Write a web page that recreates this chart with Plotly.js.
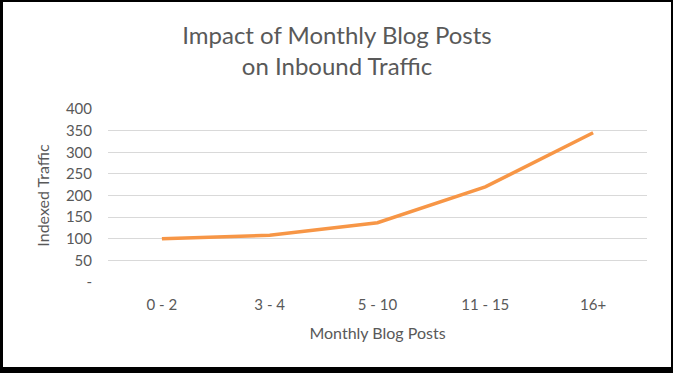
<!DOCTYPE html>
<html>
<head>
<meta charset="utf-8">
<script src="https://cdn.plot.ly/plotly-3.0.1.min.js"></script>
<style>
html, body { margin: 0; padding: 0; background: #000; width: 673px; height: 373px; overflow: hidden; }
#chart { position: absolute; left: 3px; top: 2px; width: 668px; height: 365px; background: #fff; }
</style>
</head>
<body>
<div id="chart"></div>
<script>
const categories = ['0 - 2', '3 - 4', '5 - 10', '11 - 15', '16+'];
const trafficValues = [100, 108, 137, 220, 345];
const yTickVals = [0, 50, 100, 150, 200, 250, 300, 350, 400];
const yTickText = ['-', '50', '100', '150', '200', '250', '300', '350', '400'];

const FONT = 'Lato, "Open Sans", sans-serif';
const GREY = '#595959';

Plotly.newPlot('chart', [{
  type: 'scatter',
  mode: 'lines',
  x: categories,
  y: trafficValues,
  line: { color: '#F79646', width: 3.5 },
  hoverinfo: 'x+y'
}], {
  width: 668,
  height: 365,
  margin: { l: 105, r: 24, t: 107, b: 85 },
  paper_bgcolor: '#ffffff',
  plot_bgcolor: '#ffffff',
  showlegend: false,
  font: { family: FONT, color: GREY },
  title: {
    text: 'Impact of Monthly Blog Posts<br>on Inbound Traffic',
    font: { family: FONT, size: 24, color: GREY },
    x: 0.5, xanchor: 'center',
    y: 0.885, yanchor: 'top'
  },
  xaxis: {
    type: 'category',
    range: [-0.5, 4.5],
    showgrid: false,
    zeroline: false,
    showline: false,
    ticks: '',
    ticklabelstandoff: 12,
    tickfont: { family: FONT, size: 15, color: GREY },
    title: { text: 'Monthly Blog Posts', font: { family: FONT, size: 16, color: GREY }, standoff: 15 }
  },
  yaxis: {
    range: [0, 400],
    tickvals: yTickVals,
    ticktext: yTickText,
    showgrid: true,
    gridcolor: '#D9D9D9',
    gridwidth: 1,
    zeroline: false,
    showline: false,
    ticks: '',
    ticklabelstandoff: 15,
    tickfont: { family: FONT, size: 15, color: GREY },
    title: { text: 'Indexed Traffic', font: { family: FONT, size: 16, color: GREY }, standoff: 12 }
  }
}, { displayModeBar: false, staticPlot: true });
</script>
</body>
</html>
